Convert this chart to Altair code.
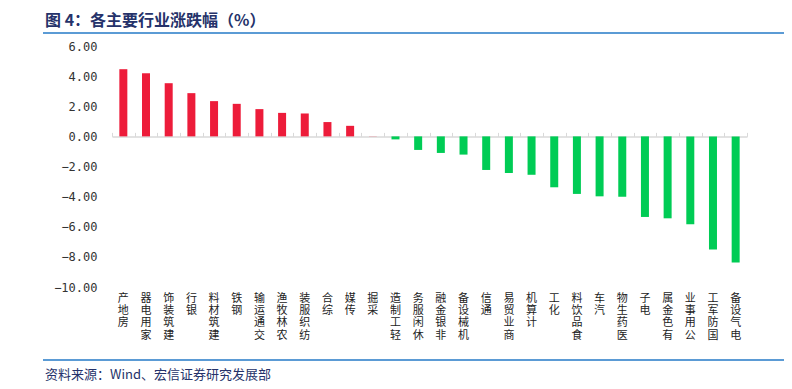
import altair as alt
import pandas as pd

industries = ["房地产", "家用电器", "建筑装饰", "银行", "建筑材料", "钢铁", "交通运输",
              "农林牧渔", "纺织服装", "综合", "传媒", "采掘", "轻工制造", "休闲服务",
              "非银金融", "机械设备", "通信", "商业贸易", "计算机", "化工", "食品饮料",
              "汽车", "医药生物", "电子", "有色金属", "公用事业", "国防军工", "电气设备"]
changes = [4.46, 4.19, 3.53, 2.87, 2.34, 2.16, 1.81,
           1.56, 1.52, 0.95, 0.70, 0.01, -0.20, -0.90,
           -1.10, -1.21, -2.23, -2.43, -2.55, -3.38, -3.82,
           -3.98, -4.00, -5.35, -5.44, -5.83, -7.51, -8.37]
y_ticks = [-10, -8, -6, -4, -2, 0, 2, 4, 6]
title_text = "图 4：各主要行业涨跌幅（%）"
source_text = "资料来源：Wind、宏信证券研究发展部"

df = pd.DataFrame({"industry": industries, "value": changes})

W, H = 635, 241
zero_off = H * 6 / 16
CJK = "Noto Sans CJK SC"

base = alt.Chart(df)

bars = base.mark_bar(size=8).encode(
    x=alt.X("industry:N", sort=None, title=None,
            scale=alt.Scale(paddingInner=0, paddingOuter=0),
            axis=alt.Axis(orient="bottom", domain=False, ticks=False, labelAngle=0,
                          labelExpr="reverse(split(datum.label, ''))",
                          labelBaseline="top", labelLineHeight=12.4, labelFontSize=11,
                          labelFont=CJK, labelColor="#222222", labelPadding=5,
                          labelOverlap=False, grid=False)),
    y=alt.Y("value:Q", title=None,
            scale=alt.Scale(domain=[-10, 6], nice=False, zero=False),
            axis=alt.Axis(values=y_ticks, format=".2f", domain=False, ticks=False,
                          grid=False, labelFont="DejaVu Sans Mono", labelFontSize=12,
                          labelColor="#333333", labelPadding=15)),
    color=alt.condition("datum.value >= 0", alt.value("#ED1C3A"), alt.value("#00CC55")),
)

zero_axis = base.mark_point(opacity=0).encode(
    x=alt.X("industry:N", sort=None, title=None,
            axis=alt.Axis(orient="top", offset=-zero_off, domain=True,
                          domainColor="#D9D9D9", domainWidth=1.5, ticks=True,
                          tickColor="#D9D9D9", tickSize=4, tickBand="extent",
                          labels=False, grid=False)),
    y=alt.value(0),
)

one = pd.DataFrame({"k": [0]})

title = alt.Chart(one).mark_text(align="left", baseline="middle", font=CJK,
                                 fontSize=16, fontWeight="bold", color="#25326A").encode(
    x=alt.value(-67), y=alt.value(-25), text=alt.value(title_text))

top_line = alt.Chart(one).mark_rule(color="#5B9BD5", strokeWidth=2).encode(
    x=alt.value(-69), x2=alt.value(673), y=alt.value(-13))

bottom_line = alt.Chart(one).mark_rule(color="#5B9BD5", strokeWidth=2).encode(
    x=alt.value(-69), x2=alt.value(673), y=alt.value(314))

source = alt.Chart(one).mark_text(align="left", baseline="middle", font=CJK,
                                  fontSize=13, color="#25326A").encode(
    x=alt.value(-67), y=alt.value(329), text=alt.value(source_text))

chart = alt.layer(bars, zero_axis, title, top_line, bottom_line, source).resolve_axis(
    x="independent"
).properties(
    width=W, height=H,
    autosize=alt.AutoSizeParams(type="none"),
    padding={"left": 104, "top": 38, "right": 37, "bottom": 98},
).configure_view(stroke=None)

chart.save("out.html", embed_options={"renderer": "svg", "actions": False})
